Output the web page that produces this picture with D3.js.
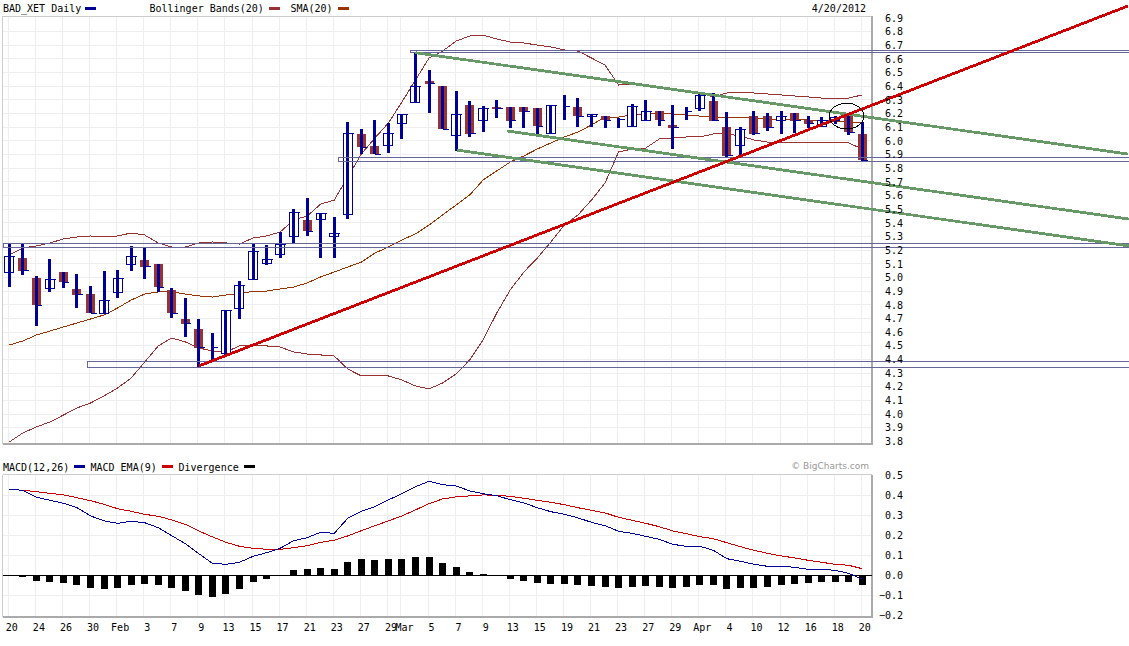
<!DOCTYPE html>
<html>
<head>
<meta charset="utf-8">
<script src="https://cdnjs.cloudflare.com/ajax/libs/d3/7.8.5/d3.min.js"></script>
<style>
    html, body { margin: 0; padding: 0; background: #fff; }
    svg { display: block; }
    text { font-family: "DejaVu Sans Mono", monospace; font-size: 10px; fill: #000; }
</style>
</head>
<body>
<div id="chart"></div>
<script>
// Daily candles, one entry per trading day (Jan 20 - Apr 20 2012)
const open = [5.040,5.143,4.996,4.916,5.040,4.916,4.879,4.733,4.887,5.092,5.128,5.099,4.909,4.696,4.623,4.484,4.440,4.770,4.989,5.106,5.165,5.297,5.421,5.428,5.297,5.458,6.051,5.963,5.963,6.131,6.278,6.439,6.402,6.043,6.263,6.146,6.249,6.249,6.249,6.241,6.051,6.249,6.249,6.182,6.182,6.160,6.102,6.153,6.219,6.117,6.219,6.241,6.293,6.102,5.963,6.182,6.182,6.146,6.204,6.153,6.102,6.153,6.190,6.051];
const high = [5.253,5.253,5.011,5.135,5.040,5.026,4.938,5.048,5.055,5.231,5.216,5.099,4.923,4.850,4.696,4.594,4.762,4.974,5.253,5.238,5.333,5.501,5.582,5.472,5.443,6.139,6.087,6.153,6.131,6.197,6.651,6.519,6.402,6.366,6.293,6.256,6.300,6.249,6.249,6.241,6.256,6.337,6.314,6.190,6.182,6.168,6.271,6.300,6.219,6.263,6.249,6.344,6.351,6.212,6.102,6.219,6.204,6.219,6.204,6.182,6.175,6.182,6.190,6.139];
const low = [4.931,5.018,4.645,4.894,4.923,4.777,4.740,4.733,4.850,5.048,4.989,4.894,4.703,4.564,4.345,4.396,4.433,4.696,4.989,5.092,5.143,5.253,5.304,5.143,5.143,5.428,5.904,5.904,5.911,6.014,6.278,6.204,6.087,5.926,6.029,6.065,6.168,6.095,6.095,6.043,6.051,6.153,6.102,6.102,6.095,6.095,6.102,6.153,6.109,5.941,6.153,6.219,6.146,5.882,5.890,6.043,6.073,6.051,6.058,6.095,6.102,6.124,6.043,5.853];
const close = [5.157,5.048,4.798,4.989,4.967,4.872,4.740,4.828,4.996,5.157,5.077,4.930,4.740,4.660,4.484,4.484,4.755,4.945,5.194,5.135,5.245,5.479,5.340,5.472,5.319,6.051,5.955,5.904,6.051,6.197,6.402,6.417,6.087,6.190,6.051,6.234,6.234,6.146,6.212,6.109,6.256,6.249,6.182,6.190,6.153,6.160,6.249,6.219,6.153,6.095,6.219,6.329,6.146,5.890,6.087,6.051,6.095,6.182,6.146,6.124,6.153,6.168,6.065,5.860];

// Bollinger bands and 20 day average
const bandUpper = [5.165,5.216,5.231,5.253,5.282,5.297,5.304,5.297,5.304,5.326,5.311,5.253,5.223,5.223,5.253,5.260,5.253,5.245,5.289,5.304,5.333,5.421,5.450,5.538,5.567,5.736,5.904,6.021,6.131,6.285,6.446,6.607,6.658,6.731,6.768,6.775,6.746,6.724,6.717,6.702,6.688,6.666,6.658,6.607,6.556,6.409,6.417,6.402,6.388,6.373,6.366,6.351,6.322,6.351,6.351,6.351,6.344,6.337,6.329,6.322,6.314,6.314,6.314,6.337];
const sma20 = [4.506,4.535,4.579,4.608,4.638,4.667,4.696,4.726,4.777,4.835,4.879,4.894,4.894,4.879,4.865,4.857,4.872,4.879,4.901,4.901,4.916,4.930,4.960,5.004,5.040,5.077,5.113,5.179,5.223,5.275,5.319,5.384,5.458,5.531,5.604,5.714,5.780,5.846,5.890,5.941,5.985,6.029,6.065,6.117,6.175,6.175,6.190,6.197,6.204,6.197,6.190,6.182,6.175,6.168,6.168,6.168,6.160,6.160,6.160,6.153,6.153,6.146,6.139,6.131];
const bandLower = [3.796,3.862,3.906,3.942,3.993,4.045,4.081,4.133,4.191,4.264,4.381,4.499,4.557,4.528,4.484,4.462,4.455,4.499,4.506,4.499,4.491,4.455,4.440,4.433,4.425,4.330,4.279,4.286,4.279,4.250,4.206,4.184,4.228,4.294,4.396,4.543,4.740,4.909,5.040,5.143,5.260,5.384,5.458,5.567,5.692,5.919,5.941,5.948,6.014,6.021,6.029,6.029,6.051,6.051,6.036,6.007,5.992,5.992,5.992,5.985,5.992,5.992,5.985,5.941];

// MACD panel
const macd = [.430,.425,.390,.375,.360,.338,.297,.272,.260,.270,.263,.238,.198,.158,.108,.060,.055,.065,.095,.113,.135,.173,.188,.215,.210,.285,.320,.343,.377,.408,.443,.470,.453,.447,.422,.408,.398,.378,.362,.338,.318,.305,.287,.265,.248,.220,.210,.195,.180,.155,.145,.145,.125,.083,.070,.055,.045,.045,.040,.030,.030,.025,.010,-.020];
const macdEma = [.430,.425,.418,.410,.402,.388,.373,.355,.333,.320,.305,.295,.277,.255,.222,.192,.165,.145,.135,.130,.130,.138,.148,.165,.175,.197,.223,.248,.272,.297,.327,.358,.382,.392,.397,.402,.400,.395,.385,.375,.365,.353,.338,.325,.312,.290,.275,.260,.243,.222,.208,.193,.183,.163,.143,.125,.110,.097,.087,.075,.065,.055,.050,.033];
const divergence = [0,-.008,-.028,-.033,-.038,-.048,-.063,-.068,-.063,-.048,-.043,-.048,-.063,-.078,-.098,-.108,-.093,-.068,-.033,-.018,0,.027,.032,.037,.032,.067,.082,.077,.082,.082,.092,.092,.062,.042,.017,.007,0,-.018,-.028,-.038,-.043,-.043,-.048,-.053,-.058,-.063,-.058,-.053,-.058,-.063,-.058,-.048,-.048,-.068,-.063,-.063,-.058,-.048,-.043,-.038,-.033,-.033,-.033,-.048];

// Date axis: position in the trading day list and its label
const dateTicks = [0,2,4,6,8,10,12,14,16,18,20,22,24,26,28,29,31,33,35,37,39,41,43,45,47,49,51,53,55,57,59,61,63];
const dateLabels = ['20','24','26','30','Feb','3','7','9','13','15','17','21','23','27','29','Mar','5','7','9','13','15','19','21','23','27','29','Apr','4','10','12','16','18','20'];

const priceTicks = [3.8,3.9,4.0,4.1,4.2,4.3,4.4,4.5,4.6,4.7,4.8,4.9,5.0,5.1,5.2,5.3,5.4,5.5,5.6,5.7,5.8,5.9,6.0,6.1,6.2,6.3,6.4,6.5,6.6,6.7,6.8,6.9];
const macdTicks = [-0.2,-0.1,0,0.1,0.2,0.3,0.4,0.5];

// Hand drawn annotations, as [day, price] pairs (day runs past the last candle)
const redTrend = [[14,4.352],[82.62,6.988]];
const greenTrends = [
    [[30,6.646],[82.62,5.904]],
    [[36.73,6.073],[82.7,5.428]],
    [[33.04,5.933],[82.7,5.231]]
];
const priceBoxes = [
    {start: 29.6, top: 6.662, bottom: 6.647},
    {start: 24.3, top: 5.880, bottom: 5.851},
    {start: -0.44, top: 5.250, bottom: 5.221},
    {start: 5.76, top: 4.387, bottom: 4.343}
];
const circleNote = {day: 61.84, price: 6.182, dayRadius: 1.28, priceRadius: 0.094};

const WIDTH = 1129, HEIGHT = 646;
const LEFT = 2.5, RIGHT = 872;
const BLUE = '#000099', BROWN = '#993333', RUST = '#993300', RED = '#cc0000', GREEN = '#669966', BOX = '#666699';

const svg = d3.select('#chart').append('svg').attr('width', WIDTH).attr('height', HEIGHT);

const x = d3.scaleLinear().domain([0, 63]).range([9.3, 862.3]);
const y = d3.scaleLinear().domain([3.8, 6.9]).range([441.4, 18]);
const yMacd = d3.scaleLinear().domain([-0.2, 0.5]).range([615.3, 475.3]);

const days = d3.range(open.length);

function drawFrame(g, top, bottom) {
    g.append('line').attr('x1', LEFT).attr('x2', RIGHT).attr('y1', top).attr('y2', top).attr('stroke', '#ccc');
    g.append('line').attr('x1', LEFT).attr('x2', LEFT).attr('y1', top).attr('y2', bottom).attr('stroke', '#ccc');
    g.append('line').attr('x1', LEFT).attr('x2', RIGHT).attr('y1', bottom).attr('y2', bottom).attr('stroke', '#aaa').attr('stroke-width', 2);
    g.append('line').attr('x1', RIGHT).attr('x2', RIGHT).attr('y1', top).attr('y2', bottom + 1).attr('stroke', '#aaa').attr('stroke-width', 2);
}

function drawGrid(g, scale, values, top, bottom) {
    g.selectAll('.hgrid').data(values).join('line').attr('class', 'hgrid')
        .attr('x1', LEFT).attr('x2', RIGHT)
        .attr('y1', d => scale(d)).attr('y2', d => scale(d))
        .attr('stroke', '#eee');
    g.selectAll('.vgrid').data(dateTicks).join('line').attr('class', 'vgrid')
        .attr('x1', d => x(d) - 1).attr('x2', d => x(d) - 1)
        .attr('y1', top).attr('y2', bottom)
        .attr('stroke', '#eee');
}

function drawValueAxis(scale, values, format) {
    const axis = d3.axisRight(scale).tickValues(values).tickSize(0).tickPadding(31).tickFormat(format);
    const g = svg.append('g').attr('transform', `translate(${RIGHT},0)`).call(axis);
    g.select('.domain').remove();
    g.selectAll('text').attr('text-anchor', 'end').style('font-family', '"DejaVu Sans Mono", monospace').style('font-size', '10px').attr('fill', '#000');
}

// ---- price panel
const pricePanel = svg.append('g').attr('shape-rendering', 'crispEdges');
drawGrid(pricePanel, y, priceTicks.filter(d => d > 3.8 && d < 6.9), 16, 444);
drawFrame(pricePanel, 16, 444);

const priceLine = values => d3.line().x((d, i) => x(i)).y(d => y(d))(values);
[[bandUpper, BROWN], [bandLower, BROWN], [sma20, RUST]].forEach(([values, color]) => {
    pricePanel.append('path').attr('d', priceLine(values)).attr('fill', 'none').attr('stroke', color);
});

// bodies first, wicks on top of them
const isUp = i => close[i] >= open[i];
pricePanel.selectAll('.body').data(days).join('rect').attr('class', 'body')
    .attr('x', i => x(i) - 4.5)
    .attr('width', 9)
    .attr('y', i => y(Math.max(open[i], close[i])))
    .attr('height', i => Math.abs(y(open[i]) - y(close[i])))
    .attr('fill', i => isUp(i) ? '#fff' : BROWN)
    .attr('stroke', i => isUp(i) ? BLUE : 'none');
pricePanel.selectAll('.wick').data(days).join('line').attr('class', 'wick')
    .attr('x1', i => x(i)).attr('x2', i => x(i))
    .attr('y1', i => y(high[i])).attr('y2', i => y(low[i]))
    .attr('stroke', BLUE).attr('stroke-width', 3);
pricePanel.selectAll('.closeTick').data(days).join('line').attr('class', 'closeTick')
    .attr('x1', i => x(i)).attr('x2', i => x(i) + 6)
    .attr('y1', i => y(close[i])).attr('y2', i => y(close[i]))
    .attr('stroke', BLUE);

priceBoxes.forEach(b => {
    svg.append('rect')
        .attr('x', x(b.start)).attr('width', WIDTH)
        .attr('y', y(b.top)).attr('height', y(b.bottom) - y(b.top))
        .attr('fill', 'none').attr('stroke', BOX).attr('shape-rendering', 'crispEdges');
});

const noteLine = d3.line().x(d => x(d[0])).y(d => y(d[1]));
greenTrends.forEach(t => {
    svg.append('path').attr('d', noteLine(t)).attr('fill', 'none').attr('stroke', GREEN).attr('stroke-width', 2.8).attr('shape-rendering', 'crispEdges');
});
svg.append('path').attr('d', noteLine(redTrend)).attr('fill', 'none').attr('stroke', RED).attr('stroke-width', 2.8).attr('shape-rendering', 'crispEdges');

svg.append('ellipse')
    .attr('cx', x(circleNote.day)).attr('cy', y(circleNote.price))
    .attr('rx', x(circleNote.dayRadius) - x(0))
    .attr('ry', y(circleNote.price - circleNote.priceRadius) - y(circleNote.price))
    .attr('fill', 'none').attr('stroke', '#000').attr('shape-rendering', 'crispEdges');

drawValueAxis(y, priceTicks, d3.format('.1f'));

// ---- MACD panel
const macdPanel = svg.append('g').attr('shape-rendering', 'crispEdges');
drawGrid(macdPanel, yMacd, macdTicks.filter(d => d > -0.2 && d < 0.5), 474.5, 616.5);
drawFrame(macdPanel, 474.5, 616.5);

macdPanel.selectAll('.bar').data(divergence).join('rect').attr('class', 'bar')
    .attr('x', (d, i) => x(i) - 3.5)
    .attr('width', 7)
    .attr('y', d => yMacd(Math.max(d, 0)))
    .attr('height', d => Math.abs(yMacd(d) - yMacd(0)))
    .attr('fill', '#000');
macdPanel.append('line')
    .attr('x1', LEFT).attr('x2', RIGHT)
    .attr('y1', yMacd(0)).attr('y2', yMacd(0))
    .attr('stroke', '#000');

const macdLine = values => d3.line().x((d, i) => x(i)).y(d => yMacd(d))(values);
[[macdEma, RED], [macd, BLUE]].forEach(([values, color]) => {
    macdPanel.append('path').attr('d', macdLine(values)).attr('fill', 'none').attr('stroke', color);
});

drawValueAxis(yMacd, macdTicks, d3.format('.1f'));

// date labels sit a little right of their grid line
const dateAxis = d3.axisBottom(x).tickValues(dateTicks).tickSize(0).tickPadding(0)
    .tickFormat((d, i) => dateLabels[i]);
const dateG = svg.append('g').attr('transform', 'translate(2,624)').call(dateAxis);
dateG.select('.domain').remove();
dateG.selectAll('text').style('font-family', '"DejaVu Sans Mono", monospace').style('font-size', '10px').attr('fill', '#000');

// ---- legends
function legendText(label, px, py, anchor) {
    svg.append('text').attr('x', px).attr('y', py).attr('text-anchor', anchor || 'start').text(label);
}
function legendBar(px, py, color) {
    svg.append('rect').attr('x', px).attr('y', py).attr('width', 11).attr('height', 3).attr('fill', color);
}
legendText('BAD_XET Daily', 3, 12);
legendBar(85, 7, BLUE);
legendText('Bollinger Bands(20)', 149.5, 12);
legendBar(269, 7, BROWN);
legendText('SMA(20)', 290.5, 12);
legendBar(338, 7, RUST);
legendText('4/20/2012', 866, 12, 'end');

legendText('MACD(12,26)', 3, 470.5);
legendBar(74, 465, BLUE);
legendText('MACD EMA(9)', 90.5, 470.5);
legendBar(162, 465, RED);
legendText('Divergence', 178.5, 470.5);
legendBar(244, 465, '#000');

svg.append('text').attr('x', 869).attr('y', 469).attr('text-anchor', 'end')
    .style('font-family', '"DejaVu Sans", sans-serif').style('font-size', '9px').style('fill', '#999')
    .text('\u00a9 BigCharts.com');
</script>
</body>
</html>
